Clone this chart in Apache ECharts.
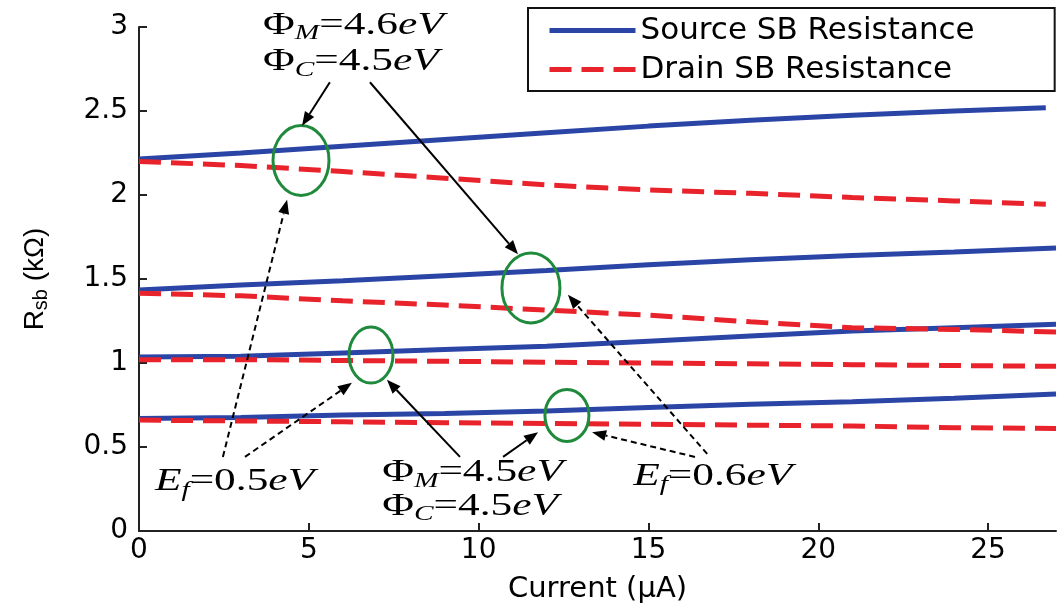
<!DOCTYPE html>
<html><head><meta charset="utf-8">
<script src="https://cdn.jsdelivr.net/npm/echarts@6/dist/echarts.min.js"></script>
<style>html,body{margin:0;padding:0;background:#fff}#c{width:1059px;height:609px}</style>
</head><body><div id="c"></div>
<script>
// ---- data (current in µA, resistance in kΩ) ----
const currentTop = [0, 3, 6, 9, 12, 15, 18, 21, 24, 26.7];
const current    = [0, 3, 6, 9, 12, 15, 18, 21, 24, 27];

const source1 = [2.215, 2.25, 2.29, 2.33, 2.37, 2.41, 2.445, 2.475, 2.50, 2.52];
const drain1  = [2.20, 2.175, 2.14, 2.10, 2.06, 2.03, 2.01, 1.985, 1.965, 1.945];
const source2 = [1.435, 1.465, 1.49, 1.52, 1.55, 1.585, 1.615, 1.64, 1.66, 1.685];
const drain2  = [1.415, 1.40, 1.37, 1.345, 1.315, 1.285, 1.245, 1.21, 1.20, 1.185];
const source3 = [1.035, 1.04, 1.06, 1.08, 1.10, 1.13, 1.16, 1.19, 1.21, 1.23];
const drain3  = [1.02, 1.02, 1.015, 1.01, 1.005, 1.0, 0.995, 0.99, 0.985, 0.98];
const source4 = [0.67, 0.675, 0.69, 0.70, 0.715, 0.735, 0.755, 0.77, 0.79, 0.815];
const drain4  = [0.66, 0.655, 0.65, 0.645, 0.64, 0.635, 0.63, 0.625, 0.615, 0.61];

const xTicks = [0, 5, 10, 15, 20, 25];
const yTicks = [0, 0.5, 1, 1.5, 2, 2.5, 3];
const legendNames = ['Source SB Resistance', 'Drain SB Resistance'];

// annotation anchors in data units
const ellipses = [[4.77, 2.206, 28, 35], [11.54, 1.447, 29, 35], [6.83, 1.047, 22, 28], [12.60, 0.688, 22, 26]];
const arrows = [
  [[5.62, 2.671], [4.80, 2.412], false],
  [[6.80, 2.671], [11.16, 1.647], false],
  [[2.47, 0.441], [4.36, 1.971], true],
  [[3.12, 0.441], [6.27, 0.882], true],
  [[9.45, 0.441], [7.30, 0.900], false],
  [[10.72, 0.441], [11.75, 0.588], false],
  [[16.73, 0.459], [12.63, 1.406], true],
  [[16.37, 0.441], [13.34, 0.588], true]
];
const labels = [
  [[3.65, 2.953], '{p|Φ}{s|M}{n|=4.6}{i|eV}'],
  [[3.65, 2.735], '{p|Φ}{s|C}{n|=4.5}{i|eV}'],
  [[0.47, 0.235], '{i|E}{s|f}{n|=0.5}{i|eV}'],
  [[7.16, 0.288], '{p|Φ}{s|M}{n|=4.5}{i|eV}'],
  [[7.16, 0.088], '{p|Φ}{s|C}{n|=4.5}{i|eV}'],
  [[14.55, 0.265], '{i|E}{s|f}{n|=0.6}{i|eV}']
];

const BLUE = '#2b45a6', RED = '#e8232b', GREEN = '#1f8a3c';

function mk(name, xs, ys, dashed) {
  return {
    name, type: 'line', symbol: 'none', silent: true,
    data: xs.map((x, i) => [x, ys[i]]),
    lineStyle: { color: dashed ? RED : BLUE, width: 5, type: dashed ? [22, 10] : 'solid' },
    itemStyle: { color: dashed ? RED : BLUE },
    z: dashed ? 3 : 2
  };
}

const chart = echarts.init(document.getElementById('c'));
const axisCommon = {
  axisLine: { lineStyle: { color: '#222', width: 2 } },
  axisTick: { inside: true, length: 8, lineStyle: { color: '#222', width: 2 } },
  splitLine: { show: false },
  axisLabel: { color: '#000', fontFamily: 'DejaVu Sans', fontSize: 28 }
};
chart.setOption({
  animation: false,
  backgroundColor: '#fff',
  grid: { left: 139, right: 3, top: 27, bottom: 72 },
  xAxis: Object.assign({}, axisCommon, {
    type: 'value', min: 0, max: 27, interval: 5,
    axisTick: Object.assign({}, axisCommon.axisTick, { customValues: xTicks }),
    axisLabel: Object.assign({}, axisCommon.axisLabel, { customValues: xTicks, margin: 6 }),
    name: 'Current (μA)', nameLocation: 'middle', nameGap: 44,
    nameTextStyle: { color: '#000', fontFamily: 'DejaVu Sans', fontSize: 29 }
  }),
  yAxis: Object.assign({}, axisCommon, {
    type: 'value', min: 0, max: 3, interval: 0.5,
    axisTick: Object.assign({}, axisCommon.axisTick, { customValues: yTicks }),
    axisLabel: Object.assign({}, axisCommon.axisLabel, { customValues: yTicks, margin: 11 }),
    name: '{a|R}{s|sb}{a| (kΩ)}', nameLocation: 'middle', nameGap: 88,
    nameTextStyle: {
      color: '#000', fontFamily: 'Liberation Sans', fontSize: 28,
      rich: { a: { fontFamily: 'Liberation Sans', fontSize: 28, color: '#000' },
              s: { fontFamily: 'Liberation Sans', fontSize: 20, color: '#000', padding: [12, 0, 0, 0] } }
    }
  }),
  legend: {
    data: legendNames, orient: 'vertical', left: 528, top: 8,
    padding: [7, 80, 6, 19], itemGap: 8, itemWidth: 86, itemHeight: 30,
    borderColor: '#111', borderWidth: 2, backgroundColor: '#fff',
    itemStyle: { opacity: 0, borderWidth: 0 },
    lineStyle: { width: 5 },
    textStyle: { color: '#000', fontFamily: 'DejaVu Sans', fontSize: 31 },
    selectedMode: false
  },
  series: [
    mk(legendNames[0], currentTop, source1, false),
    mk(legendNames[1], currentTop, drain1, true),
    mk(legendNames[0], current, source2, false),
    mk(legendNames[1], current, drain2, true),
    mk(legendNames[0], current, source3, false),
    mk(legendNames[1], current, drain3, true),
    mk(legendNames[0], current, source4, false),
    mk(legendNames[1], current, drain4, true)
  ]
});

const P = p => chart.convertToPixel({ gridIndex: 0 }, p);
const g = [];
ellipses.forEach(e => {
  const c = P([e[0], e[1]]);
  g.push({ type: 'ellipse', silent: true, z: 10, shape: { cx: c[0], cy: c[1], rx: e[2], ry: e[3] },
           style: { fill: null, stroke: GREEN, lineWidth: 3 } });
});
arrows.forEach(a => {
  const p = P(a[0]), q = P(a[1]);
  const dx = q[0] - p[0], dy = q[1] - p[1], L = Math.hypot(dx, dy);
  const ux = dx / L, uy = dy / L, hl = 14, hw = 5.5;
  const b = [q[0] - ux * hl, q[1] - uy * hl];
  g.push({ type: 'line', silent: true, z: 10, shape: { x1: p[0], y1: p[1], x2: b[0], y2: b[1] },
           style: { stroke: '#000', lineWidth: 2, lineDash: a[2] ? [6, 4] : null } });
  g.push({ type: 'polygon', silent: true, z: 10,
           shape: { points: [q, [b[0] - uy * hw, b[1] + ux * hw], [b[0] + uy * hw, b[1] - ux * hw]] },
           style: { fill: '#000' } });
});
const SERIF = 'Liberation Serif';
const rich = {
  p: { fontFamily: SERIF, fontSize: 31, fill: '#000' },
  n: { fontFamily: SERIF, fontSize: 31, fill: '#000' },
  i: { fontFamily: SERIF, fontSize: 31, fontStyle: 'italic', fill: '#000' },
  s: { fontFamily: SERIF, fontSize: 21, fontStyle: 'italic', fill: '#000', padding: [16, 0, 0, 0] }
};
labels.forEach(l => {
  const c = P(l[0]);
  g.push({ type: 'text', silent: true, z: 11, x: c[0], y: c[1] - 28, scaleX: 1.4,
           style: { text: l[1], rich, align: 'left', verticalAlign: 'top', fill: '#000',
                    fontFamily: SERIF, fontSize: 31 } });
});
chart.setOption({ graphic: g });
</script>
</body></html>
